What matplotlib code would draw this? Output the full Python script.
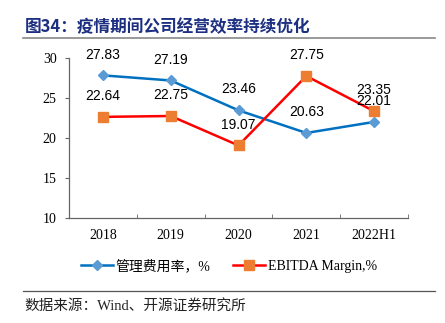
import matplotlib.pyplot as plt
from matplotlib.lines import Line2D

# data
years = ['2018', '2019', '2020', '2021', '2022H1']
admin_rate = [27.83, 27.19, 23.46, 20.63, 22.01]
ebitda = [22.64, 22.75, 19.07, 27.75, 23.35]
yticks = [10, 15, 20, 25, 30]

cjk = ['Noto Sans CJK SC', 'DejaVu Sans']
serif = ['Liberation Serif', 'Noto Sans CJK SC']

fig = plt.figure(figsize=(4.45, 3.23), dpi=100)

# title + rules
fig.text(25 / 445, 1 - 27 / 323, '图34：疫情期间公司经营效率持续优化', family=cjk,
         fontsize=12, fontweight='bold', color='#1c2f80', va='center', ha='left')
fig.add_artist(Line2D([23 / 445, 435 / 445], [1 - 38 / 323] * 2, color='#888888', lw=1.2))
fig.add_artist(Line2D([23 / 445, 435 / 445], [1 - 291 / 323] * 2, color='#555555', lw=0.9))
fig.text(24 / 445, 1 - 306 / 323, '数据来源：Wind、开源证券研究所', family=serif,
         fontsize=10.5, color='#222222', va='center', ha='left')

ax = fig.add_axes([69 / 445, 1 - 218 / 323, 339 / 445, 160 / 323])
x = list(range(len(years)))

l1, = ax.plot(x, admin_rate, color='#0070C0', lw=1.8, marker='D', markersize=5.5,
              markerfacecolor='#5B9BD5', markeredgecolor='#5B9BD5', zorder=3)
l2, = ax.plot(x, ebitda, color='#FF0000', lw=1.8, marker='s', markersize=7.5,
              markerfacecolor='#ED7D31', markeredgecolor='#ED7D31', zorder=3)

for xi, v in zip(x, admin_rate):
    ax.annotate(f'{v:.2f}', (xi, v), xytext=(0, 15), textcoords='offset points',
                ha='center', va='center', fontsize=10, family='Liberation Sans', color='black')
for xi, v in zip(x, ebitda):
    ax.annotate(f'{v:.2f}', (xi, v), xytext=(0, 15), textcoords='offset points',
                ha='center', va='center', fontsize=10, family='Liberation Sans', color='black')

ax.set_xlim(-0.5, len(years) - 0.5)
ax.set_ylim(10, 30)
ax.set_yticks(yticks)
ax.set_xticks(x)
ax.set_xticklabels(years)
ax.set_xticks([i + 0.5 for i in x], minor=True)
ax.tick_params(axis='x', which='major', length=0, pad=8)
ax.tick_params(axis='x', which='minor', direction='in', length=3, color='#666666')
ax.tick_params(axis='y', direction='out', length=3, color='#666666', pad=6)
for lab in ax.get_xticklabels() + ax.get_yticklabels():
    lab.set_family('Liberation Serif')
    lab.set_fontsize(10)
for s in ['top', 'right']:
    ax.spines[s].set_visible(False)
for s in ['left', 'bottom']:
    ax.spines[s].set_color('#666666')
    ax.spines[s].set_linewidth(0.9)

leg = fig.legend([l1, l2], ['管理费用率，%', 'EBITDA Margin,%'], loc='center',
                 bbox_to_anchor=(229 / 445, 1 - 266 / 323), ncol=2, frameon=False,
                 handlelength=2.3, handletextpad=0.2, columnspacing=1.6,
                 prop={'family': serif, 'size': 10})

fig.savefig('out.png', dpi=100)
